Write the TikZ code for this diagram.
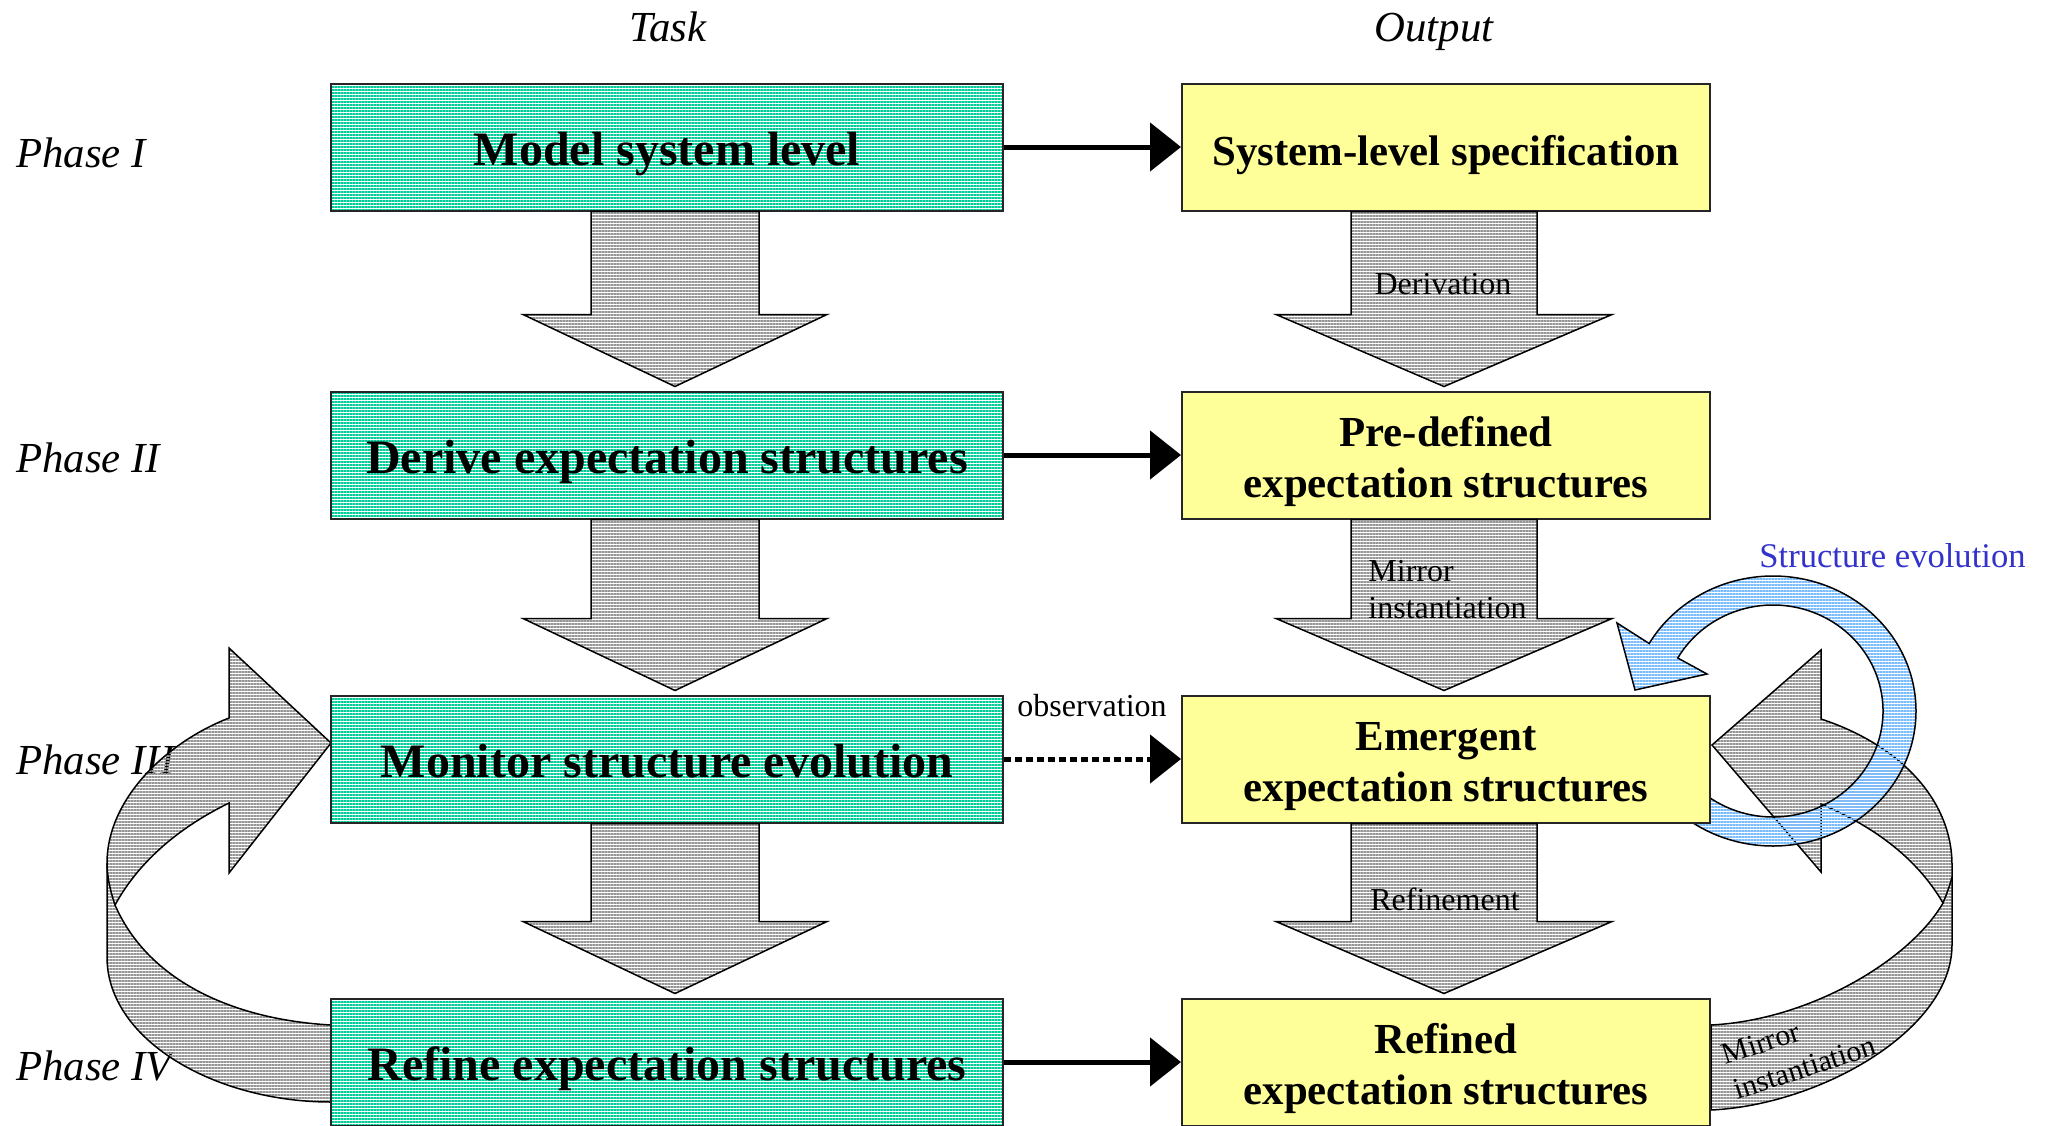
\documentclass[tikz,border=0pt]{standalone}
\usepackage{fontspec}
\setmainfont{Liberation Serif}
\usetikzlibrary{patterns.meta,arrows.meta,calc}

\definecolor{tealstripe}{RGB}{0,204,153}
\definecolor{paleyellow}{RGB}{255,255,153}
\definecolor{graystripe}{RGB}{150,150,150}
\definecolor{bluestripe}{RGB}{120,188,255}
\definecolor{evoblue}{RGB}{51,51,204}

\tikzset{
  taskbox/.style={draw=black!85, line width=1pt,
    pattern={Lines[angle=0,distance=1.5pt,line width=0.9pt]}, pattern color=tealstripe,
    minimum width=336pt, minimum height=63.5pt, inner sep=0pt,
    text height=18.4pt, text depth=0pt,
    font=\fontsize{24}{28}\selectfont\bfseries},
  outbox/.style={draw=black!85, line width=1pt, fill=paleyellow,
    minimum width=264pt, minimum height=63.5pt, inner sep=0pt, align=center,
    text height=18pt, text depth=0pt,
    font=\fontsize{21.4}{25.5}\selectfont\bfseries},
  twoline/.style={text height=42.3pt, text depth=0pt},
  hatchgray/.style={draw=black, line width=0.75pt, line join=miter,
    pattern={Lines[angle=0,distance=1.5pt,line width=0.75pt]}, pattern color=graystripe},
  hatchblue/.style={draw=black, line width=0.75pt, line join=miter,
    pattern={Lines[angle=0,distance=1.5pt,line width=0.8pt]}, pattern color=bluestripe},
  phaselabel/.style={anchor=base west, inner sep=0pt, font=\fontsize{21.4}{25}\selectfont\itshape},
  headlabel/.style={anchor=base, inner sep=0pt, font=\fontsize{21.4}{25}\selectfont\itshape},
  flowlabel/.style={inner sep=0pt, font=\fontsize{16}{18.5}\selectfont},
  feed/.style={line width=2.5pt, -{Triangle[length=15.5pt,width=24pt]}},
  feedobs/.style={feed, dash pattern=on 3.3pt off 2.2pt},
}

% hatched block arrow pointing down from one box to the next
% #1 source node, #2 target node, #3 horizontal offset, #4 shaft half-width, #5 head half-width
\newcommand{\blockarrow}[5]{%
  \draw[hatchgray] let \p1=($(#1.south)+(#3,0)$), \p2=(#2.north) in
    (\x1-#4,\y1) -- (\x1-#4,\y2+38pt) -- (\x1-#5,\y2+38pt) -- (\x1,\y2+2pt)
    -- (\x1+#5,\y2+38pt) -- (\x1+#4,\y2+38pt) -- (\x1+#4,\y1) -- cycle;
}

\begin{document}
\begin{tikzpicture}[x=0.5pt,y=-0.5pt]
\fill[white] (0,0) rectangle (2051,1125);
\useasboundingbox (0,0) rectangle (2051,1125);

% column headings and phase names
\node[headlabel] (task) at (668,41) {Task};
\node[headlabel] (output) at (1434,41) {Output};
\node[phaselabel] (ph1) at (16,167) {Phase I};
\node[phaselabel] (ph2) at (16,472) {Phase II};
\node[phaselabel] (ph3) at (16,774) {Phase III};
\node[phaselabel] (ph4) at (16,1080) {Phase IV};

% feedback ribbon on the left: from the refine box back up to the monitor box
\draw[hatchgray]
  (229,718) .. controls (165,743) and (107,800) .. (107,863)
  -- (107,957) .. controls (107,1040) and (215,1102) .. (331,1102)
  -- (331,1025) .. controls (240,1020) and (150,985) .. (115,905)
  .. controls (137,865) and (174,830) .. (229,803)
  -- (229,873) -- (331,743) -- (229,648) -- cycle;
\draw[line width=0.75pt] (115,905) .. controls (110,890) and (107,876) .. (107,863);

% feedback ribbon on the right: from the refined structures back to the emergent ones
\draw[hatchgray]
  (1821,719) .. controls (1900,745) and (1952,800) .. (1952,865)
  -- (1952,945) .. controls (1952,1030) and (1820,1105) .. (1711,1110)
  -- (1711,1025) .. controls (1810,1020) and (1910,960) .. (1943,903)
  .. controls (1915,855) and (1870,825) .. (1821,804)
  -- (1821,872) -- (1712,745) -- (1821,650) -- cycle;
\draw[line width=0.75pt] (1943,903) .. controls (1947,893) and (1950,885) .. (1952,877);
\node[rotate=18, align=left, inner sep=0pt, font=\fontsize{15}{18.3}\selectfont]
  (mirror2) at (1799,1050) {Mirror\\instantiation};

% circular structure-evolution arrow
\coordinate (rc) at (1773,711);
\draw[hatchblue]
  ($(rc)+(135:143 and 135)$) arc[start angle=135, end angle=-150, x radius=143, y radius=135]
  -- (1617,623) -- (1635,690) -- (1707,674)
  -- ($(rc)+(-150:110 and 106)$) arc[start angle=-150, end angle=135, x radius=110, y radius=106]
  -- cycle;
\node[anchor=west, inner sep=0pt, text=evoblue, font=\fontsize{17.3}{20}\selectfont]
  (evo) at (1759,556) {Structure evolution};

% task column
\node[taskbox] (t1) at (667,147) {Model system level};
\node[taskbox] (t2) at (667,455) {Derive expectation structures};
\node[taskbox] (t3) at (667,759) {Monitor structure evolution};
\node[taskbox] (t4) at (667,1062) {Refine expectation structures};

% output column
\node[outbox] (o1) at (1446,147) {System-level specification};
\node[outbox, twoline] (o2) at (1446,455) {Pre-defined\\expectation structures};
\node[outbox, twoline] (o3) at (1446,759) {Emergent\\expectation structures};
\node[outbox, twoline] (o4) at (1446,1062) {Refined\\expectation structures};

% task to output
\draw[feed] (t1.east) -- (o1.west);
\draw[feed] (t2.east) -- (o2.west);
\draw[feedobs] (t3.east) -- (o3.west);
\draw[feed] (t4.east) -- (o4.west);
\node[flowlabel] (obs) at (1092,706) {observation};

% downward flow between phases
\blockarrow{t1}{t2}{8}{42pt}{76pt}
\blockarrow{t2}{t3}{8}{42pt}{76pt}
\blockarrow{t3}{t4}{8}{42pt}{76pt}
\blockarrow{o1}{o2}{-2}{46.5pt}{84pt}
\blockarrow{o2}{o3}{-2}{46.5pt}{84pt}
\blockarrow{o3}{o4}{-2}{46.5pt}{84pt}

\node[flowlabel] (deriv) at (1443,284) {Derivation};
\node[flowlabel, anchor=west, align=left] (mirror1) at (1368,590) {Mirror\\instantiation};
\node[flowlabel] (refine) at (1445,899) {Refinement};
\end{tikzpicture}
\end{document}
